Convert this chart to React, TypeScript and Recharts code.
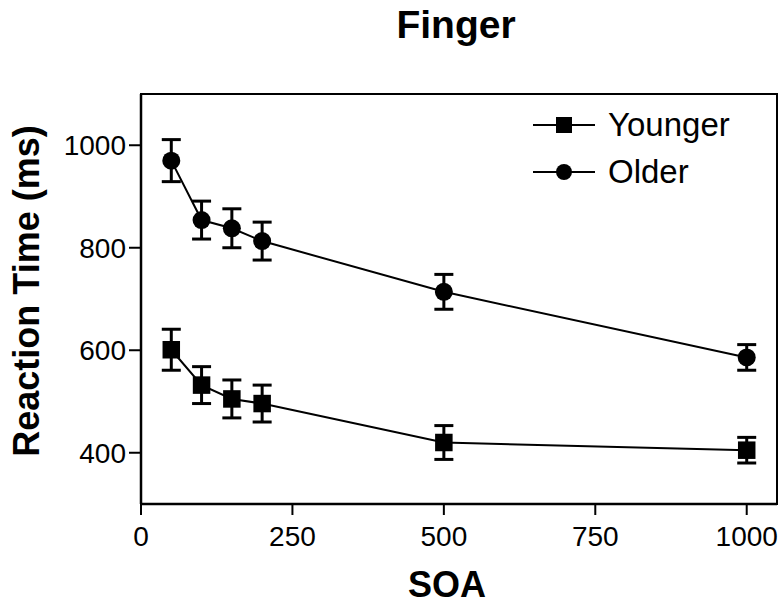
import {
  ErrorBar,
  Line,
  LineChart,
  ReferenceArea,
  XAxis,
  YAxis,
} from 'recharts'

const soa = [50, 100, 150, 200, 500, 1000]
const younger = [601, 532, 505, 496, 420, 405]
const youngerErr = [40, 36, 37, 36, 33, 25]
const older = [970, 854, 838, 813, 714, 586]
const olderErr = [41, 37, 38, 37, 34, 25]

const xTicks = [0, 250, 500, 750, 1000]
const yTicks = [400, 600, 800, 1000]

const FONT = '"Liberation Sans", Arial, Helvetica, sans-serif'

const chartData = soa.map((s, i) => ({
  soa: s,
  younger: younger[i],
  youngerErr: youngerErr[i],
  older: older[i],
  olderErr: olderErr[i],
}))

function SquareDot(props: any) {
  const { cx, cy, index } = props
  if (cx == null || cy == null) return null
  return <rect key={`sq-${index}`} x={cx - 8.75} y={cy - 8.75} width={17.5} height={17.5} fill="#000" />
}

function YLabel(props: any) {
  const { viewBox } = props
  const cx = viewBox.x + 26
  const cy = viewBox.y + viewBox.height / 2 - 8
  return (
    <text
      x={cx}
      y={cy}
      transform={`rotate(-90 ${cx} ${cy})`}
      textAnchor="middle"
      dominantBaseline="central"
      fontFamily={FONT}
      fontWeight="bold"
      fontSize={36}
      fill="#000"
    >
      Reaction Time (ms)
    </text>
  )
}

function XLabel(props: any) {
  const { viewBox } = props
  const cx = viewBox.x + viewBox.width / 2 - 12
  return (
    <text
      x={cx}
      y={597}
      textAnchor="middle"
      fontFamily={FONT}
      fontWeight="bold"
      fontSize={36}
      fill="#000"
    >
      SOA
    </text>
  )
}

// legend entries, drawn as an overlay inside the plot's top-right corner
const legendRows = [
  { name: 'Younger', shape: 'square' },
  { name: 'Older', shape: 'circle' },
]

function LegendBox() {
  return (
    <svg width={250} height={100} style={{ position: 'absolute', left: 528, top: 101 }}>
      {legendRows.map((r, i) => {
        const y = 24 + i * 47
        return (
          <g key={r.name}>
            <line x1={5} x2={67} y1={y} y2={y} stroke="#000" strokeWidth={2} />
            {r.shape === 'square' ? (
              <rect x={28} y={y - 8} width={16} height={16} fill="#000" />
            ) : (
              <circle cx={36} cy={y} r={8} fill="#000" />
            )}
            <text x={80} y={y + 11} fontFamily={FONT} fontSize={33} fill="#000">
              {r.name}
            </text>
          </g>
        )
      })}
    </svg>
  )
}

export default function App() {
  return (
    <div style={{ position: 'absolute', left: 0, top: 0, width: 784, height: 605, background: '#fff' }}>
      <svg width={784} height={60} style={{ position: 'absolute', left: 0, top: 0 }}>
        <text
          x={456}
          y={38}
          textAnchor="middle"
          fontFamily={FONT}
          fontWeight="bold"
          fontSize={39}
          fill="#000"
        >
          Finger
        </text>
      </svg>
      <LineChart
        width={784}
        height={605}
        data={chartData}
        margin={{ top: 94, right: 7, bottom: 0, left: 0 }}
      >
        <ReferenceArea
          x1={0}
          x2={1050}
          y1={300}
          y2={1100}
          fill="none"
          stroke="#000"
          strokeWidth={2}
        />
        <XAxis
          dataKey="soa"
          type="number"
          domain={[0, 1050]}
          ticks={xTicks}
          height={101}
          tickSize={11}
          tickMargin={11}
          stroke="#000"
          strokeWidth={2.5}
          tick={{ fill: '#000', fontSize: 28, fontFamily: FONT }}
          tickLine={{ stroke: '#000', strokeWidth: 2 }}
          label={<XLabel />}
        />
        <YAxis
          type="number"
          domain={[300, 1100]}
          ticks={yTicks}
          width={141}
          tickSize={12}
          tickMargin={3}
          stroke="#000"
          strokeWidth={2.5}
          tick={{ fill: '#000', fontSize: 28, fontFamily: FONT }}
          tickLine={{ stroke: '#000', strokeWidth: 2 }}
          label={<YLabel />}
        />
        <Line
          name="Younger"
          dataKey="younger"
          type="linear"
          stroke="#000"
          strokeWidth={2}
          dot={<SquareDot />}
          activeDot={false}
          isAnimationActive={false}
        >
          <ErrorBar dataKey="youngerErr" direction="y" width={9.5} stroke="#000" strokeWidth={3} />
        </Line>
        <Line
          name="Older"
          dataKey="older"
          type="linear"
          stroke="#000"
          strokeWidth={2}
          dot={{ r: 9, fill: '#000', stroke: 'none' }}
          activeDot={false}
          isAnimationActive={false}
        >
          <ErrorBar dataKey="olderErr" direction="y" width={9.5} stroke="#000" strokeWidth={3} />
        </Line>
      </LineChart>
      <LegendBox />
    </div>
  )
}
